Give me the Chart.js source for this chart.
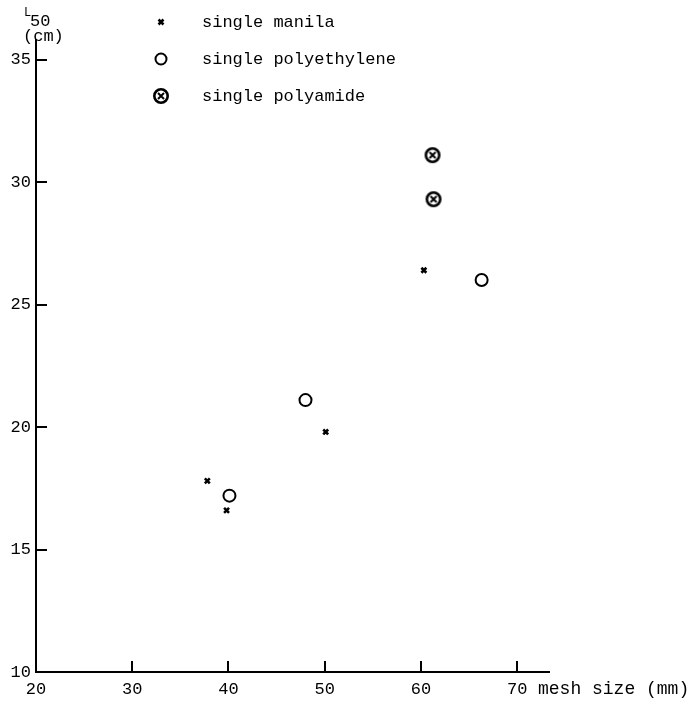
<!DOCTYPE html>
<html>
<head>
<meta charset="utf-8">
<script src="https://cdn.jsdelivr.net/npm/chart.js@4/dist/chart.umd.min.js"></script>
<style>
  html, body { margin: 0; padding: 0; background: #fff; }
  #wrap { width: 699px; height: 705px; }
</style>
</head>
<body>
<div id="wrap"><canvas id="myChart"></canvas></div>
<script>
// mesh size (mm) / L50 (cm)
const manilaX = [37.8, 39.8, 50.1, 60.3];
const manilaY = [17.8, 16.6, 19.8, 26.4];
const polyethyleneX = [40.1, 48.0, 66.3];
const polyethyleneY = [17.2, 21.1, 26.0];
const polyamideX = [61.2, 61.3];
const polyamideY = [31.1, 29.3];

const xTicks = [20, 30, 40, 50, 60, 70];
const yTicks = [10, 15, 20, 25, 30, 35];
const seriesNames = ['single manila', 'single polyethylene', 'single polyamide'];

const FONT = '"Liberation Mono", "DejaVu Sans Mono", monospace';

function toPoints(xs, ys) {
    return xs.map((x, i) => ({ x: x, y: ys[i] }));
}

// circle with a cross inside, for polyamide
function makeCircleCross() {
    const c = document.createElement('canvas');
    c.width = 18; c.height = 18;
    const g = c.getContext('2d');
    g.strokeStyle = '#000';
    g.lineWidth = 2.6;
    g.beginPath();
    g.arc(9, 9, 6.7, 0, Math.PI * 2);
    g.stroke();
    g.lineWidth = 2;
    g.beginPath();
    g.moveTo(6, 6); g.lineTo(12, 12);
    g.moveTo(12, 6); g.lineTo(6, 12);
    g.stroke();
    return c;
}
const circleCross = makeCircleCross();

// ticks pointing into the plot, legend and axis titles
const decorations = {
    id: 'decorations',
    afterDraw(chart) {
        const ctx = chart.ctx;
        const xs = chart.scales.x;
        const ys = chart.scales.y;
        const area = chart.chartArea;
        ctx.save();
        ctx.strokeStyle = '#000';
        ctx.lineWidth = 2;
        xTicks.slice(1).forEach(v => {
            const px = Math.round(xs.getPixelForValue(v));
            ctx.beginPath();
            ctx.moveTo(px, area.bottom);
            ctx.lineTo(px, area.bottom - 11);
            ctx.stroke();
        });
        yTicks.slice(1).forEach(v => {
            const py = Math.round(ys.getPixelForValue(v));
            ctx.beginPath();
            ctx.moveTo(area.left, py);
            ctx.lineTo(area.left + 11, py);
            ctx.stroke();
        });

        ctx.fillStyle = '#000';
        ctx.textBaseline = 'middle';
        ctx.textAlign = 'left';
        // x axis title after the 70 label
        ctx.font = '18px ' + FONT;
        ctx.fillText('mesh size (mm)', 538, 689);
        // y axis title
        ctx.font = '12px ' + FONT;
        ctx.fillText('L', 24, 13);
        ctx.font = '17px ' + FONT;
        ctx.fillText('50', 30, 21);
        ctx.fillText('(cm)', 23, 36);

        // legend
        const legendY = [22, 59, 96];
        ctx.font = '17px ' + FONT;
        seriesNames.forEach((name, i) => {
            ctx.fillText(name, 202, legendY[i]);
        });
        ctx.fillStyle = 'rgba(0,0,0,0)';
        ctx.lineWidth = 2.6;
        Chart.helpers.drawPoint(ctx, { pointStyle: 'crossRot', radius: 3.5, borderWidth: 2.6 }, 161, legendY[0]);
        ctx.lineWidth = 2;
        Chart.helpers.drawPoint(ctx, { pointStyle: 'circle', radius: 5.5, borderWidth: 2 }, 161, legendY[1]);
        ctx.drawImage(circleCross, 161 - 9, legendY[2] - 9);
        ctx.restore();
    }
};

const config = {
    type: 'scatter',
    data: {
        datasets: [{
            label: seriesNames[0],
            data: toPoints(manilaX, manilaY),
            pointStyle: 'crossRot',
            pointRadius: 3.5,
            borderColor: '#000',
            borderWidth: 2.6
        }, {
            label: seriesNames[1],
            data: toPoints(polyethyleneX, polyethyleneY),
            pointStyle: 'circle',
            pointRadius: 6,
            borderColor: '#000',
            backgroundColor: 'rgba(0,0,0,0)',
            borderWidth: 2
        }, {
            label: seriesNames[2],
            data: toPoints(polyamideX, polyamideY),
            pointStyle: circleCross,
            pointRadius: 9,
            borderColor: '#000'
        }]
    },
    options: {
        responsive: false,
        animation: false,
        layout: { padding: { top: 40, right: 150, left: 0, bottom: 0 } },
        plugins: {
            legend: { display: false },
            tooltip: { enabled: false }
        },
        scales: {
            x: {
                type: 'linear',
                min: 20,
                max: 73.3,
                afterBuildTicks: s => { s.ticks = xTicks.map(v => ({ value: v })); },
                afterFit: s => { s.height = 33; },
                grid: { display: false, drawTicks: false },
                border: { display: true, color: '#000', width: 2 },
                ticks: {
                    color: '#000',
                    padding: 7,
                    maxRotation: 0,
                    font: { family: FONT, size: 17 }
                }
            },
            y: {
                type: 'linear',
                min: 10,
                max: 35.8,
                afterBuildTicks: s => { s.ticks = yTicks.map(v => ({ value: v })); },
                afterFit: s => { s.width = 36; },
                grid: { display: false, drawTicks: false },
                border: { display: true, color: '#000', width: 2 },
                ticks: {
                    color: '#000',
                    padding: 5,
                    font: { family: FONT, size: 17 }
                }
            }
        }
    },
    plugins: [decorations]
};

const canvas = document.getElementById('myChart');
canvas.width = 699;
canvas.height = 705;
const myChart = new Chart(canvas, config);
</script>
</body>
</html>
